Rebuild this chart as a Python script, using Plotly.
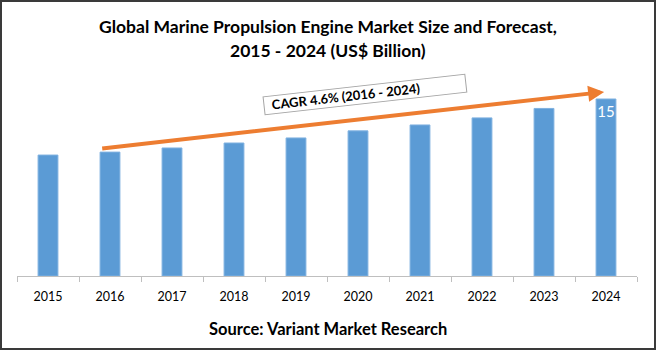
import plotly.graph_objects as go

years = ["2015", "2016", "2017", "2018", "2019", "2020", "2021", "2022", "2023", "2024"]
values = [10.25, 10.5, 10.85, 11.27, 11.7, 12.3, 12.8, 13.4, 14.2, 15.0]
labels = ["", "", "", "", "", "", "", "", "", "15"]
title_lines = ["Global Marine Propulsion Engine Market Size and Forecast,", "2015 - 2024 (US$ Billion)"]
cagr_text = "CAGR 4.6% (2016 - 2024)"
source_text = "Source: Variant Market Research"

FONT = "Lato, 'Open Sans', sans-serif"
W, H = 656, 350
ml, mr, mt, mb = 17, 19, 40, 74
pw, ph = W - ml - mr, H - mt - mb
YMAX = 20

def px_x(p):
    return (p - ml) / pw

def px_y(p):
    return (H - mb - p) / ph

fig = go.Figure()
fig.add_trace(go.Bar(
    x=years, y=values, text=labels,
    textposition="inside", insidetextanchor="end", constraintext="none",
    textangle=0,
    textfont=dict(family=FONT, size=15, color="white"),
    marker=dict(color="#5B9BD5", line=dict(color="#7FB1E0", width=1)),
    width=0.32, hoverinfo="skip",
))

fig.update_layout(
    width=W, height=H,
    margin=dict(l=ml, r=mr, t=mt, b=mb),
    paper_bgcolor="white", plot_bgcolor="white",
    showlegend=False,
    xaxis=dict(type="category", showgrid=False, showline=True, linecolor="#BFBFBF",
               linewidth=1, ticks="outside", tickson="boundaries", ticklen=5,
               tickcolor="#BFBFBF", tickfont=dict(family=FONT, size=12.5, color="black"),
               ticklabelstandoff=9,
               range=[-0.5, len(years) - 0.5], fixedrange=True),
    yaxis=dict(range=[0, YMAX], visible=False, showgrid=False, fixedrange=True),
)

# Title (two lines)
for line, ypx in zip(title_lines, [26.5, 50]):
    fig.add_annotation(
        x=px_x(W / 2), y=px_y(ypx), xref="paper", yref="paper",
        text=line, showarrow=False, xanchor="center", yanchor="middle",
        font=dict(family=FONT, size=17.5, color="black", weight="bold"),
    )

# CAGR arrow (from just left of 2016 to the top of 2024)
i16 = years.index("2016")
i24 = years.index("2024")
fig.add_annotation(
    x=i24 - 0.03, y=values[i24] + 0.6, xref="x", yref="y",
    ax=i16 - 0.15, ay=values[i16] + 0.3, axref="x", ayref="y",
    text="", showarrow=True, arrowhead=2, arrowsize=0.8, arrowwidth=4,
    arrowcolor="#ED7D31", standoff=0, startstandoff=0,
)

# CAGR label box
fig.add_annotation(
    x=5.11, y=15.34, xref="x", yref="y",
    text="&nbsp;&nbsp;" + cagr_text, showarrow=False,
    textangle=-6.4, width=200, height=15, align="left", valign="bottom",
    font=dict(family=FONT, size=13, color="black", weight="bold"),
    bgcolor="white", bordercolor="#A6A6A6", borderwidth=1, borderpad=1,
)

# Source text
fig.add_annotation(
    x=px_x(W / 2), y=px_y(329), xref="paper", yref="paper",
    text=source_text, showarrow=False, xanchor="center", yanchor="middle",
    font=dict(family=FONT, size=16.5, color="black", weight="bold"),
)

# Outer border
fig.add_shape(type="rect", xref="paper", yref="paper",
              x0=px_x(1), x1=px_x(655), y0=px_y(349), y1=px_y(1),
              line=dict(color="#3A3A3A", width=2), fillcolor="rgba(0,0,0,0)")

fig.write_html("out.html")
